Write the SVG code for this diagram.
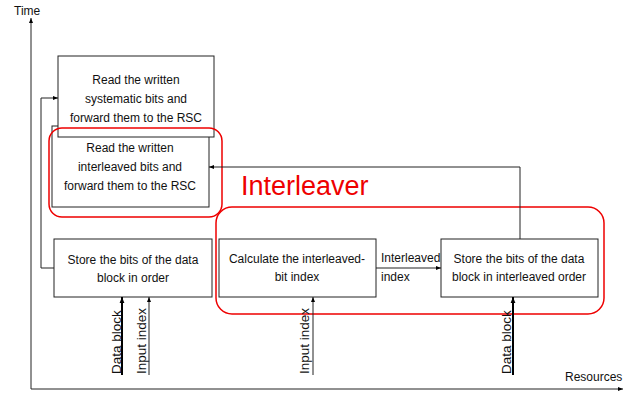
<svg xmlns="http://www.w3.org/2000/svg" width="644" height="394" viewBox="0 0 644 394">
<defs>
<marker id="ah" viewBox="0 0 10 10" refX="10" refY="5" markerWidth="5" markerHeight="5" orient="auto" markerUnits="userSpaceOnUse"><path d="M0,1 L10,5 L0,9 z" fill="#000"/></marker>
<marker id="ah2" viewBox="0 0 10 10" refX="10" refY="5" markerWidth="6" markerHeight="6" orient="auto" markerUnits="userSpaceOnUse"><path d="M0,1 L10,5 L0,9 z" fill="#000"/></marker>
<style>
.box{fill:#fff;stroke:#222;stroke-width:1}
.t{font-family:"Liberation Sans",Arial,sans-serif;font-size:12px;fill:#111}
.r{font-size:13.5px}
.c{text-anchor:middle}
.ln{fill:none;stroke:#222;stroke-width:1}
.thick{fill:none;stroke:#000;stroke-width:2}
.red{fill:none;stroke:#e00;stroke-width:1.5}
</style>
</defs>
<rect width="644" height="394" fill="#fff"/>
<g id="axes">
<path class="ln" d="M31,389 V18" marker-end="url(#ah)"/>
<path class="ln" d="M31,389 H623" marker-end="url(#ah)"/>
<text class="t" x="14" y="15">Time</text>
<text class="t" x="565" y="381">Resources</text>
</g>
<g id="node-read-interleaved">
<rect class="box" x="52" y="126" width="157" height="81"/>
<text class="t c" x="130" y="152">Read the written</text>
<text class="t c" x="130" y="171">interleaved bits and</text>
<text class="t c" x="130" y="190">forward them to the RSC</text>
</g>
<g id="node-read-systematic">
<rect class="box" x="58" y="56" width="156" height="81"/>
<text class="t c" x="136" y="84">Read the written</text>
<text class="t c" x="136" y="103">systematic bits and</text>
<text class="t c" x="136" y="122">forward them to the RSC</text>
</g>
<g id="interleaver-group">
<rect class="red" x="49" y="128" width="173" height="89" rx="13"/>
<rect class="red" x="216" y="207" width="388" height="107" rx="16"/>
<text x="241" y="195" style="font-family:'Liberation Sans',Arial,sans-serif;font-size:27px;fill:#e00">Interleaver</text>
</g>
<g id="node-store-order">
<rect class="box" x="54" y="239" width="158" height="58"/>
<text class="t c" x="133" y="264">Store the bits of the data</text>
<text class="t c" x="133" y="282">block in order</text>
</g>
<g id="node-calc">
<rect class="box" x="219" y="239" width="157" height="58"/>
<text class="t c" x="297" y="263">Calculate the interleaved-</text>
<text class="t c" x="297" y="281">bit index</text>
</g>
<g id="node-store-interleaved">
<rect class="box" x="441" y="239" width="157" height="58"/>
<text class="t c" x="519" y="263">Store the bits of the data</text>
<text class="t c" x="519" y="281">block in interleaved order</text>
</g>
<g id="connectors">
<path class="ln" d="M376,268 H441" marker-end="url(#ah)"/>
<text class="t" x="381" y="262">Interleaved</text>
<text class="t" x="381" y="281">index</text>
<path class="ln" d="M520,239 V167 H209" marker-end="url(#ah)"/>
<path class="ln" d="M54,268 H41 V98 H58" marker-end="url(#ah)"/>
<path class="thick" d="M122,375 V297" marker-end="url(#ah2)"/>
<text class="t r" transform="translate(121,374) rotate(-90)">Data block</text>
<path class="ln" d="M149,375 V297" marker-end="url(#ah)"/>
<text class="t r" transform="translate(146,374) rotate(-90)">Input index</text>
<path class="ln" d="M313,375 V297" marker-end="url(#ah)"/>
<text class="t r" transform="translate(309,374) rotate(-90)">Input index</text>
<path class="thick" d="M513,375 V297" marker-end="url(#ah2)"/>
<text class="t r" transform="translate(511,374) rotate(-90)">Data block</text>
</g>
</svg>
